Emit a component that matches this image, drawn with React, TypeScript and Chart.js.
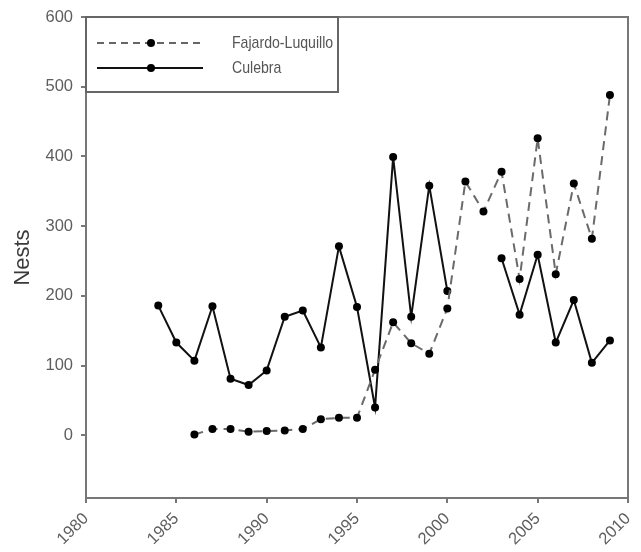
import React, { useEffect, useRef } from "react";
import { Chart, registerables } from "chart.js";

Chart.register(...registerables);

const years: number[] = [
  1984, 1985, 1986, 1987, 1988, 1989, 1990, 1991, 1992, 1993, 1994, 1995, 1996,
  1997, 1998, 1999, 2000, 2001, 2002, 2003, 2004, 2005, 2006, 2007, 2008, 2009,
];
const fajardoLuquillo: (number | null)[] = [
  null, null, 1, 9, 9, 5, 6, 7, 9, 23, 25, 25, 94,
  162, 132, 117, 182, 364, 321, 378, 224, 426, 231, 361, 282, 488,
];
const culebra: (number | null)[] = [
  186, 133, 107, 185, 81, 72, 93, 170, 179, 126, 271, 184, 40,
  399, 170, 358, 207, null, null, 254, 173, 259, 133, 194, 104, 136,
];
const seriesNames: string[] = ["Fajardo-Luquillo", "Culebra"];
const xTickYears: number[] = [1980, 1985, 1990, 1995, 2000, 2005, 2010];
const yTickValues: number[] = [0, 100, 200, 300, 400, 500, 600];
const yTitle = "Nests";

const PLOT = { left: 86, right: 628, top: 17, bottom: 498 };
const W = 641;
const H = 552;
const SANS = "'Liberation Sans', Arial, sans-serif";

const frameAndLegend = {
  id: "frameAndLegend",
  afterDraw(chart: any) {
    const ctx = chart.ctx;
    const a = chart.chartArea;
    ctx.save();
    ctx.strokeStyle = "#777";
    ctx.lineWidth = 2;
    ctx.strokeRect(a.left, a.top, a.right - a.left, a.bottom - a.top);

    // legend box
    const lx = a.left;
    const ly = a.top;
    const lw = 252;
    const lh = 75;
    ctx.fillStyle = "#fff";
    ctx.fillRect(lx, ly, lw, lh);
    ctx.strokeStyle = "#666";
    ctx.lineWidth = 2;
    ctx.strokeRect(lx, ly, lw, lh);

    const rows = [
      { name: seriesNames[0], y: ly + 26, dash: [7, 5], color: "#666" },
      { name: seriesNames[1], y: ly + 51, dash: [], color: "#111" },
    ];
    rows.forEach((r) => {
      ctx.beginPath();
      ctx.setLineDash(r.dash);
      ctx.strokeStyle = r.color;
      ctx.lineWidth = 2;
      ctx.moveTo(lx + 11, r.y);
      ctx.lineTo(lx + 117, r.y);
      ctx.stroke();
      ctx.setLineDash([]);
      ctx.beginPath();
      ctx.fillStyle = "#000";
      ctx.arc(lx + 65, r.y, 4, 0, Math.PI * 2);
      ctx.fill();
      ctx.save();
      ctx.fillStyle = "#555";
      ctx.font = "17px " + SANS;
      ctx.textBaseline = "middle";
      ctx.textAlign = "left";
      ctx.translate(lx + 146, r.y);
      ctx.scale(0.83, 1);
      ctx.fillText(r.name, 0, 0);
      ctx.restore();
    });
    ctx.restore();
  },
};

export default function App() {
  const ref = useRef<HTMLCanvasElement | null>(null);

  useEffect(() => {
    document.body.style.margin = "0";
    if (!ref.current) return;
    const chart = new Chart(ref.current, {
      type: "line",
      data: {
        datasets: [
          {
            label: seriesNames[0],
            data: years.map((x, i) => ({ x, y: fajardoLuquillo[i] })) as any,
            borderColor: "#6a6a6a",
            borderWidth: 2,
            borderDash: [9, 6],
            pointRadius: 4,
            pointBackgroundColor: "#000",
            pointBorderColor: "#000",
            pointBorderWidth: 0,
            tension: 0,
            spanGaps: false,
          },
          {
            label: seriesNames[1],
            data: years.map((x, i) => ({ x, y: culebra[i] })) as any,
            borderColor: "#111",
            borderWidth: 2,
            pointRadius: 4,
            pointBackgroundColor: "#000",
            pointBorderColor: "#000",
            pointBorderWidth: 0,
            tension: 0,
            spanGaps: false,
          },
        ],
      },
      options: {
        animation: false,
        responsive: true,
        maintainAspectRatio: false,
        layout: {
          padding: { left: 0, top: PLOT.top, right: W - PLOT.right, bottom: 0 },
        },
        plugins: {
          legend: { display: false },
          tooltip: { enabled: false },
        },
        scales: {
          x: {
            type: "linear",
            min: 1980,
            max: 2010,
            afterBuildTicks: (s: any) => {
              s.ticks = xTickYears.map((v) => ({ value: v }));
            },
            afterFit: (s: any) => {
              s.height = H - PLOT.bottom;
              s.paddingLeft = 0;
              s.paddingRight = 0;
            },
            ticks: {
              minRotation: 45,
              maxRotation: 45,
              color: "#5e5e5e",
              font: { size: 16.5, family: SANS },
              padding: 6,
              callback: (v: any) => String(v),
            },
            grid: { drawOnChartArea: false, drawTicks: true, tickLength: 5, color: "#777", lineWidth: 2 },
            border: { display: true, color: "#777", width: 2 },
          },
          y: {
            type: "linear",
            min: -90,
            max: 600,
            afterBuildTicks: (s: any) => {
              s.ticks = yTickValues.map((v) => ({ value: v }));
            },
            afterFit: (s: any) => {
              s.width = PLOT.left;
              s.paddingTop = 0;
              s.paddingBottom = 0;
            },
            ticks: {
              color: "#5e5e5e",
              font: { size: 16.5, family: SANS },
              padding: 8,
            },
            grid: { drawOnChartArea: false, drawTicks: true, tickLength: 5, color: "#777", lineWidth: 2 },
            border: { display: true, color: "#777", width: 2 },
            title: {
              display: true,
              text: yTitle,
              color: "#3a3a3a",
              font: { size: 22, family: SANS },
              padding: { top: 10, bottom: 0 },
            },
          },
        },
      },
      plugins: [frameAndLegend],
    });
    return () => chart.destroy();
  }, []);

  return (
    <div style={{ width: W, height: H, position: "relative" }}>
      <canvas ref={ref} />
    </div>
  );
}
